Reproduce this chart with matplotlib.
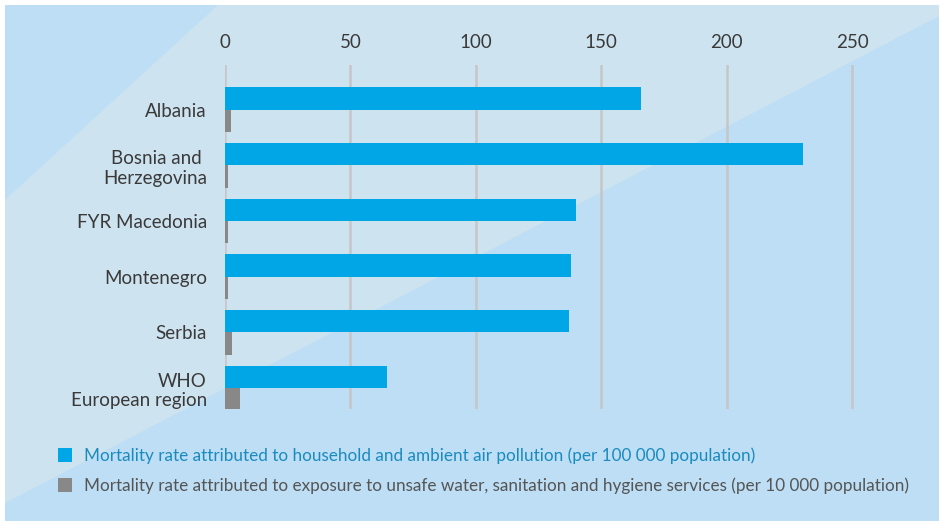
import matplotlib.pyplot as plt
from matplotlib.patches import Polygon, Rectangle

# data
countries = ["Albania", "Bosnia and \nHerzegovina", "FYR Macedonia",
             "Montenegro", "Serbia", "WHO\nEuropean region"]
air_pollution = [166, 230.5, 139.7, 138, 137.3, 64.5]   # per 100 000
unsafe_water = [2.2, 1.2, 1.2, 1.2, 2.8, 6.0]           # per 10 000
x_ticks = [0, 50, 100, 150, 200, 250]

legend_labels = [
    "Mortality rate attributed to household and ambient air pollution (per 100 000 population)",
    "Mortality rate attributed to exposure to unsafe water, sanitation and hygiene services (per 10 000 population)",
]

BLUE = "#00a6e6"
GREY = "#888889"
W, H = 944, 526

plt.rcParams['font.family'] = ['Lato', 'DejaVu Sans']

fig = plt.figure(figsize=(W / 100, H / 100), dpi=100)
fig.patch.set_facecolor("white")

# background panels (decorative)
def px(x, y):
    return (x / W, 1 - y / H)

fig.patches.append(Rectangle(px(5, 521), 934 / W, 516 / H, transform=fig.transFigure,
                             facecolor="#bddef4", edgecolor="none", zorder=-10))
fig.patches.append(Polygon([px(218, 5), px(939, 5), px(939, 16), px(5, 503), px(5, 200)],
                           closed=True, transform=fig.transFigure,
                           facecolor="#cee3f0", edgecolor="none", zorder=-9))

ax = fig.add_axes([225 / W, 1 - 409 / H, (920 - 225) / W, (409 - 65) / H])
ax.set_facecolor("none")

y = list(range(len(countries)))
ax.barh([i - 0.2 for i in y], air_pollution, height=0.4, color=BLUE, zorder=3)
ax.barh([i + 0.2 for i in y], unsafe_water, height=0.4, color=GREY, zorder=3)

ax.set_xlim(0, 277)
ax.set_ylim(5.375, -0.8)
ax.xaxis.tick_top()
ax.set_xticks(x_ticks)
ax.set_xticklabels([str(t) for t in x_ticks], fontsize=13.5, color="#3a3a3a")
ax.tick_params(axis="x", length=0, pad=10)
ax.set_yticks(y)
ax.set_yticklabels(countries, fontsize=13.5, color="#3a3a3a", multialignment="right")
ax.tick_params(axis="y", length=0, pad=13)
ax.grid(axis="x", color="#c6c6c6", linewidth=1.8, zorder=1)
for s in ax.spines.values():
    s.set_visible(False)

# legend
fig.patches.append(Rectangle(px(58, 462), 14 / W, 14 / H, transform=fig.transFigure,
                             facecolor=BLUE, edgecolor="none"))
fig.patches.append(Rectangle(px(58, 492), 14 / W, 14 / H, transform=fig.transFigure,
                             facecolor=GREY, edgecolor="none"))
fig.text(84 / W, 1 - 456 / H, legend_labels[0], fontsize=12.3, color="#1a8bbf", va="center")
fig.text(84 / W, 1 - 486 / H, legend_labels[1], fontsize=12.3, color="#555555", va="center")

fig.savefig("out.png", dpi=100)
